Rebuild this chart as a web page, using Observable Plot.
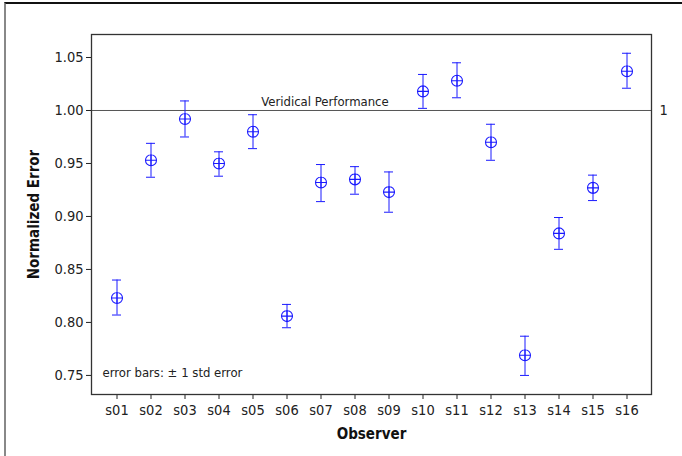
<!DOCTYPE html>
<html>
<head>
<meta charset="utf-8">
<script src="https://cdn.jsdelivr.net/npm/d3@7"></script>
<script src="https://cdn.jsdelivr.net/npm/@observablehq/plot@0.6"></script>
<style>
  html, body { margin: 0; padding: 0; background: #fff; }
  #wrap { position: relative; width: 682px; height: 456px; }
  #edge { position: absolute; left: 4px; top: 2px; right: 0; bottom: 0;
          border-top: 2px solid #111; border-left: 2px solid #888; pointer-events: none; }
  svg text { font-family: "DejaVu Sans Condensed", "DejaVu Sans", sans-serif; font-stretch: condensed; }
  svg [aria-label="x-axis tick label"] text, svg [aria-label="y-axis tick label"] text { font-size: 14.5px; fill: #222; }
  svg [aria-label="x-axis label"] text, svg [aria-label="y-axis label"] text { font-weight: bold; font-size: 15px; fill: #111; }
  svg .note text { font-size: 13px; fill: #222; }
  svg .right1 text { font-size: 14.5px; fill: #222; }
</style>
</head>
<body>
<div id="wrap"><div id="edge"></div></div>
<script>
const observers = ["s01","s02","s03","s04","s05","s06","s07","s08","s09","s10","s11","s12","s13","s14","s15","s16"];
const means = [0.823,0.953,0.992,0.950,0.980,0.806,0.932,0.935,0.923,1.018,1.028,0.970,0.769,0.884,0.927,1.037];
const lows  = [0.807,0.937,0.975,0.938,0.964,0.795,0.914,0.921,0.904,1.002,1.012,0.953,0.750,0.869,0.915,1.021];
const highs = [0.840,0.969,1.009,0.961,0.996,0.817,0.949,0.947,0.942,1.034,1.045,0.987,0.787,0.899,0.939,1.054];
const yTicks = [0.75,0.80,0.85,0.90,0.95,1.00,1.05];
const refValue = 1.0;
const refLabel = "Veridical Performance";
const refLabelAt = "s07";
const noteText = "error bars: \u00b1 1 std error";

const data = observers.map((o, i) => ({observer: o, mean: means[i], lo: lows[i], hi: highs[i]}));
const blue = "#1a1aff";

const circlePlus = {
  draw(ctx, size) {
    const r = Math.sqrt(size / Math.PI);
    ctx.moveTo(r, 0);
    ctx.arc(0, 0, r, 0, 2 * Math.PI);
    ctx.moveTo(-r - 0.5, 0); ctx.lineTo(r + 0.5, 0);
    ctx.moveTo(0, -r - 0.5); ctx.lineTo(0, r + 0.5);
  }
};

const chart = Plot.plot({
  width: 682,
  height: 456,
  marginLeft: 91,
  marginRight: 31,
  marginTop: 34,
  marginBottom: 62,
  style: {fontSize: "13px", color: "#222", background: "transparent"},
  x: {type: "band", domain: observers, paddingInner: 0.74, paddingOuter: 0.42, label: "Observer"},
  y: {domain: [0.732, 1.0717], label: "Normalized Error"},
  marks: [
    Plot.axisX({tickSize: 5, tickPadding: 5, label: "Observer", labelAnchor: "center", labelOffset: 44, labelArrow: "none"}),
    Plot.axisY({ticks: yTicks, tickFormat: d3.format(".2f"), tickSize: 5, tickPadding: 3, label: "Normalized Error", labelAnchor: "center", labelOffset: 63, labelArrow: "none"}),
    Plot.ruleY([refValue], {stroke: "#555", strokeWidth: 1}),
    Plot.text([refValue], {y: d => d, text: () => "1", frameAnchor: "right", dx: 8, textAnchor: "start", className: "right1"}),
    Plot.text([refLabel], {x: () => refLabelAt, y: () => refValue, text: d => d, dy: -9, dx: 4, className: "note"}),
    Plot.text([noteText], {text: d => d, frameAnchor: "bottom-left", dx: 11, dy: -18, textAnchor: "start", className: "note"}),
    Plot.ruleX(data, {x: "observer", y1: "lo", y2: "hi", stroke: blue, strokeWidth: 1}),
    Plot.tickY(data, {x: "observer", y: "lo", stroke: blue, strokeWidth: 1}),
    Plot.tickY(data, {x: "observer", y: "hi", stroke: blue, strokeWidth: 1}),
    Plot.dot(data, {x: "observer", y: "mean", symbol: circlePlus, r: 5.5, stroke: blue, strokeWidth: 1.1, fill: "none"}),
    Plot.frame({stroke: "#333", strokeWidth: 1.3})
  ]
});
document.getElementById("wrap").prepend(chart);
</script>
</body>
</html>
